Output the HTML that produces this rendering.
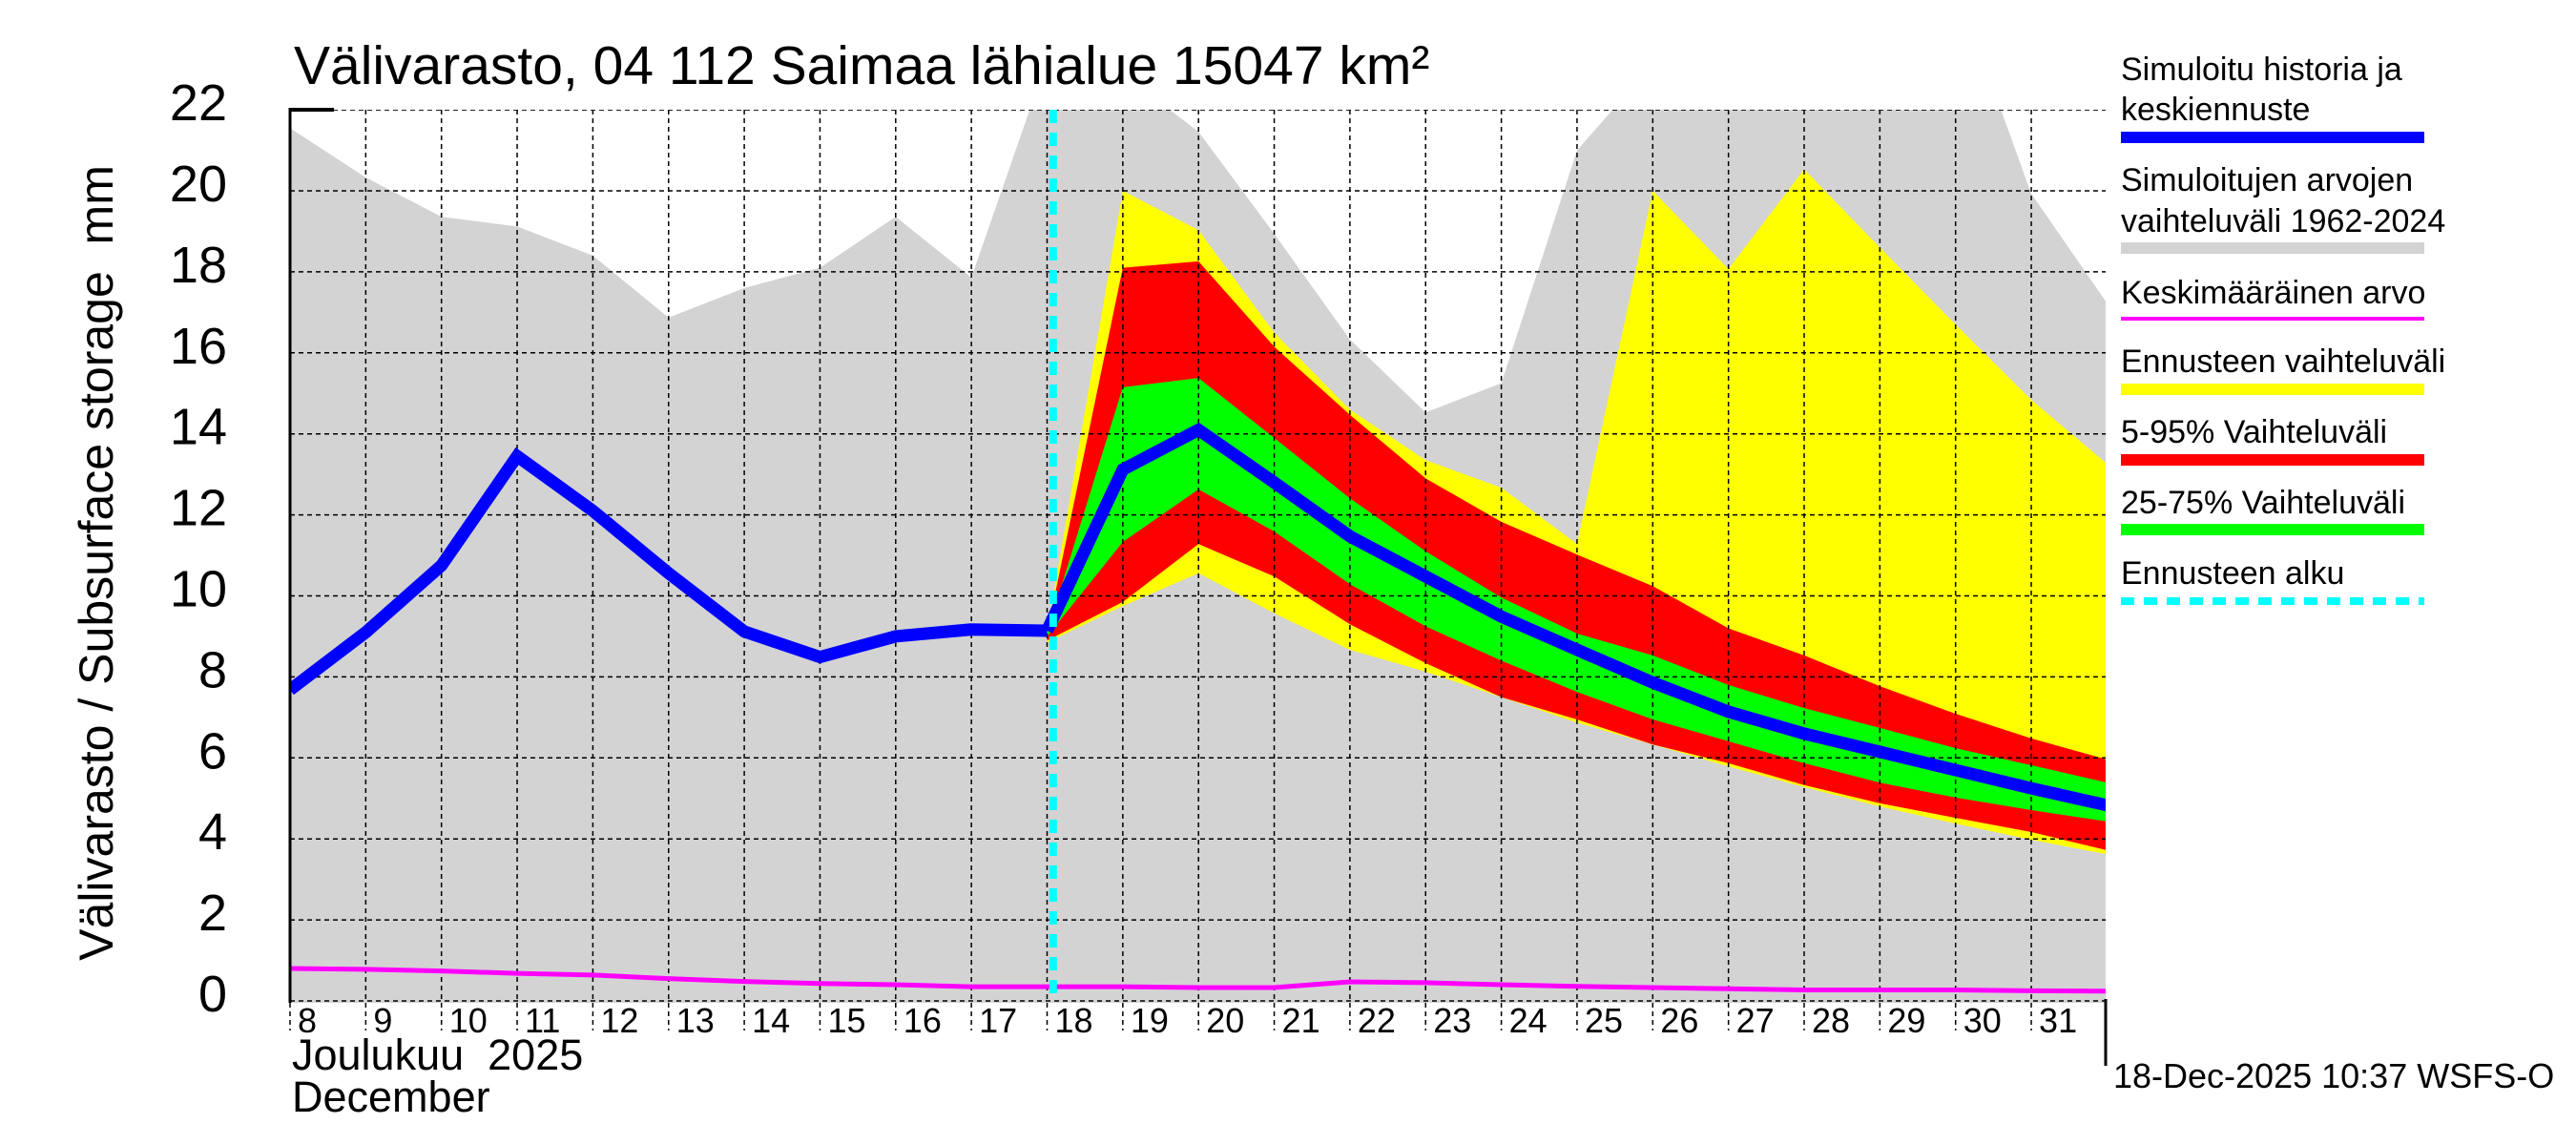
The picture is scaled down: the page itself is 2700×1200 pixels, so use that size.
<!DOCTYPE html>
<html><head><meta charset="utf-8"><style>
body{margin:0;background:#fff}
svg{display:block;font-family:"Liberation Sans",sans-serif}
</style></head><body>
<svg id="chart" width="2700" height="1200" viewBox="0 0 2700 1200" xmlns="http://www.w3.org/2000/svg">
<defs><clipPath id="pc"><rect x="304" y="115" width="1903" height="936"/></clipPath></defs>
<g id="plot" clip-path="url(#pc)"></g>
<g id="axes"></g>
<text x="308" y="88" font-size="57">Välivarasto, 04 112 Saimaa lähialue 15047 km²</text>
<text transform="translate(118,590) rotate(-90)" text-anchor="middle" font-size="50" xml:space="preserve">Välivarasto / Subsurface storage  mm</text>
<text x="306" y="1121" font-size="45" xml:space="preserve">Joulukuu  2025</text>
<text x="306" y="1165" font-size="45">December</text>
<text x="2215" y="1140" font-size="36">18-Dec-2025 10:37 WSFS-O</text>
<g font-size="34">
<text x="2223" y="84">Simuloitu historia ja</text><text x="2223" y="126">keskiennuste</text>
<rect x="2223" y="138" width="318" height="12" fill="#0000ff"/>
<text x="2223" y="200">Simuloitujen arvojen</text><text x="2223" y="243">vaihteluväli 1962-2024</text>
<rect x="2223" y="254" width="318" height="12" fill="#d3d3d3"/>
<text x="2223" y="318">Keskimääräinen arvo</text>
<rect x="2223" y="332" width="318" height="4" fill="#ff00ff"/>
<text x="2223" y="390">Ennusteen vaihteluväli</text>
<rect x="2223" y="402" width="318" height="12" fill="#ffff00"/>
<text x="2223" y="464">5-95% Vaihteluväli</text>
<rect x="2223" y="476" width="318" height="12" fill="#ff0000"/>
<text x="2223" y="538">25-75% Vaihteluväli</text>
<rect x="2223" y="549" width="318" height="12" fill="#00ff00"/>
<text x="2223" y="612">Ennusteen alku</text>
<line x1="2223" y1="630" x2="2541" y2="630" stroke="#00ffff" stroke-width="8" stroke-dasharray="14,10"/>
</g>
</svg>
<script>
const histDays=[8,9,10,11,12,13,14,15,16,17,18];
const histVals=[7.68,9.1,10.75,13.45,12.1,10.56,9.12,8.49,9.0,9.17,9.14];
const fcDays=[18,19,20,21,22,23,24,25,26,27,28,29,30,31,32];
const fcMedian=[9.14,13.12,14.1,12.8,11.47,10.48,9.49,8.67,7.86,7.14,6.6,6.15,5.7,5.25,4.83];
const yelTop=[9.1,20.0,19.03,16.5,14.6,13.35,12.67,11.28,20.0,18.07,20.53,18.6,16.7,14.84,13.26];
const yelBot=[8.85,9.75,10.56,9.57,8.67,8.13,7.5,6.87,6.33,5.79,5.28,4.8,4.38,3.98,3.62];
const redTop=[9.1,18.1,18.26,16.15,14.47,12.9,11.83,11.02,10.24,9.2,8.53,7.77,7.09,6.48,5.96];
const redBot=[8.9,9.85,11.28,10.48,9.3,8.34,7.5,6.95,6.33,5.87,5.33,4.88,4.52,4.17,3.72];
const grnTop=[9.1,15.15,15.38,13.9,12.41,11.1,9.96,9.07,8.53,7.8,7.23,6.74,6.24,5.82,5.39];
const grnBot=[9.0,11.33,12.63,11.59,10.29,9.25,8.4,7.63,6.95,6.41,5.87,5.39,5.02,4.71,4.43];
const grayDays=[8,9,10,11,12,13,14,15,16,17,17.77,19.62,20,21,22,23,24,25,25.47,30.6,31,32];
const grayTop=[21.55,20.33,19.36,19.12,18.4,16.87,17.6,18.1,19.36,17.86,22,22,21.46,18.94,16.33,14.53,15.25,21.0,22,22,19.93,17.23];
const meanDays=[8,9,10,11,12,13,14,15,16,17,18,19,20,21,22,23,24,25,26,27,28,29,30,31,32];
const meanVals=[0.8,0.78,0.74,0.68,0.64,0.55,0.48,0.43,0.4,0.35,0.35,0.35,0.33,0.33,0.47,0.45,0.4,0.36,0.33,0.3,0.27,0.27,0.27,0.25,0.24];
const yTicks=[0,2,4,6,8,10,12,14,16,18,20,22];
const xTickDays=[8,9,10,11,12,13,14,15,16,17,18,19,20,21,22,23,24,25,26,27,28,29,30,31];
const forecastStart=18.08;

const NS="http://www.w3.org/2000/svg";
const X=d=>304+(d-8)*79.35;
const Y=v=>1049-v*42.45;
const plot=document.getElementById('plot'), axes=document.getElementById('axes');
function mk(tag,attrs,parent){const e=document.createElementNS(NS,tag);for(const k in attrs)e.setAttribute(k,attrs[k]);parent.appendChild(e);return e;}
function band(days,top,bot,fill,name){
  let p=days.map((d,i)=>X(d)+','+Y(top[i]));
  for(let i=days.length-1;i>=0;i--)p.push(X(days[i])+','+Y(bot[i]));
  const e=mk('polygon',{points:p.join(' '),fill:fill},plot);
  
  
}
function line(days,vals,stroke,w,name){
  const e=mk('polyline',{points:days.map((d,i)=>X(d)+','+Y(vals[i])).join(' '),fill:'none',stroke:stroke,'stroke-width':w,'stroke-linejoin':'miter'},plot);
  
  
}
{let p=grayDays.map((d,i)=>X(d)+','+Y(grayTop[i]));p.push(X(32)+',1051',X(8)+',1051');
 const e=mk('polygon',{points:p.join(' '),fill:'#d3d3d3'},plot);
 
 }
band(fcDays,yelTop,yelBot,'#ffff00','forecast-range-band');
band(fcDays,redTop,redBot,'#ff0000','band-5-95');
band(fcDays,grnTop,grnBot,'#00ff00','band-25-75');
xTickDays.forEach(d=>{const e=mk('line',{x1:X(d),x2:X(d),y1:115,y2:1051,stroke:'#000','stroke-width':1.5,'stroke-dasharray':'5,4'},plot);
 
 });
yTicks.forEach(v=>{const e=mk('line',{x1:304,x2:2207,y1:Y(v),y2:Y(v),stroke:'#000','stroke-width':1.5,'stroke-dasharray':'5,4'},plot);
 
 });
line(meanDays,meanVals,'#ff00ff',5,'mean-line');
line(histDays,histVals,'#0000ff',13,'history-line');
line(fcDays,fcMedian,'#0000ff',13,'forecast-median-line');
{const e=mk('line',{x1:X(forecastStart),x2:X(forecastStart),y1:115,y2:1051,stroke:'#00ffff','stroke-width':8,'stroke-dasharray':'14,10'},plot);
 
 }
mk('line',{x1:304,x2:304,y1:113,y2:1051,stroke:'#000','stroke-width':3},axes);
mk('line',{x1:304,x2:350,y1:115,y2:115,stroke:'#000','stroke-width':4},axes);
mk('line',{x1:2207,x2:2207,y1:1047,y2:1117,stroke:'#000','stroke-width':3},axes);
yTicks.forEach(v=>{const t=mk('text',{x:238,y:Y(v)+11,'text-anchor':'end','font-size':54},axes);t.textContent=v;
 
 });
xTickDays.forEach(d=>{
 mk('line',{x1:X(d),x2:X(d),y1:1051,y2:1080,stroke:'#000','stroke-width':1.5,'stroke-dasharray':'5,4'},axes);
 const t=mk('text',{x:X(d)+8,y:1082,'font-size':36},axes);t.textContent=d;
 
 });
</script>
</body></html>
